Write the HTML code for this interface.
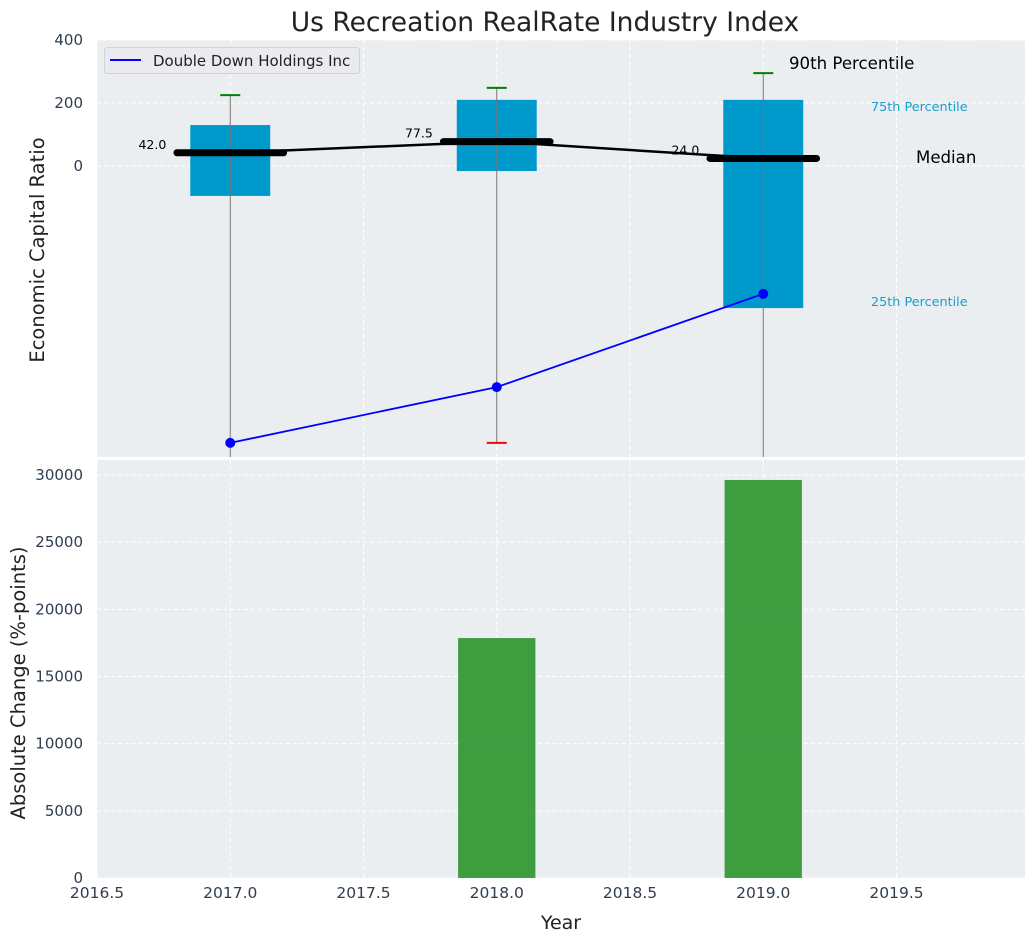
<!DOCTYPE html>
<html><head><meta charset="utf-8"><style>
body{margin:0;background:#fff;font-family:"Liberation Sans","DejaVu Sans",sans-serif}
svg text{font-family:"DejaVu Sans","Liberation Sans",sans-serif}
</style></head><body>
<svg id="c" width="1036" height="942" xmlns="http://www.w3.org/2000/svg"></svg>
<script>
const years=[2017,2018,2019];
const q25=[-95,-16,-451];
const q75=[130,210,210];
const p90=[225,248,295];
const p10=[-1000,-879,-1000];
const medians=[42,77.5,24];
const companyVals=[-879,-702,-406];
const changeYears=[2018,2019];
const changeVals=[17860,29630];
const topTicks=[0,200,400];
const botTicks=[0,5000,10000,15000,20000,25000,30000];
const xTicks=[2016.5,2017,2017.5,2018,2018.5,2019,2019.5];

const L=97,R=1025,T1=40,B1=457,T2=460,B2=878;
const xs=v=>L+(v-2016.5)*266.5;
const y1=v=>166-v*63/200;
const y2=v=>878-v*403/30000;
const svg=document.getElementById('c');
const NS='http://www.w3.org/2000/svg';
function mk(tag,attrs,parent){const e=document.createElementNS(NS,tag);for(const k in attrs)e.setAttribute(k,attrs[k]);(parent||svg).appendChild(e);return e;}
function txt(s,attrs,parent){const e=mk('text',attrs,parent);e.textContent=s;return e;}

let bg=mk('rect',{x:L,y:T1,width:R-L,height:B1-T1,fill:'#eaeef0'});


bg=mk('rect',{x:L,y:T2,width:R-L,height:B2-T2,fill:'#eaeef0'});



xTicks.forEach(t=>{
  mk('line',{x1:xs(t),x2:xs(t),y1:T1,y2:B1,stroke:'#fff','stroke-dasharray':'4,3','stroke-width':1});
  mk('line',{x1:xs(t),x2:xs(t),y1:T2,y2:B2,stroke:'#fff','stroke-dasharray':'4,3','stroke-width':1});
  const e=txt(String(t.toFixed(1)),{x:xs(t),y:B2+20,'font-size':15.5,fill:'#2e3e50','text-anchor':'middle'});
  
  
});
topTicks.forEach(t=>{
  mk('line',{x1:L,x2:R,y1:y1(t),y2:y1(t),stroke:'#fff','stroke-dasharray':'4,3'});
  const e=txt(String(t),{x:L-14,y:y1(t)+5,'font-size':15,fill:'#2e3e50','text-anchor':'end'});
  
  
});
botTicks.forEach(t=>{
  mk('line',{x1:L,x2:R,y1:y2(t),y2:y2(t),stroke:'#fff','stroke-dasharray':'4,3'});
  const e=txt(String(t),{x:L-14,y:y2(t)+5,'font-size':15,fill:'#2e3e50','text-anchor':'end'});
  
  
});
mk('line',{x1:L,x2:R,y1:458.5,y2:458.5,stroke:'#fff','stroke-width':3});

const cp=mk('clipPath',{id:'cl1'});mk('rect',{x:L,y:T1,width:R-L,height:B1-T1},cp);
const g1=mk('g',{'clip-path':'url(#cl1)'});

years.forEach((yr,i)=>{
  const b=mk('rect',{x:xs(yr-0.15),y:y1(q75[i]),width:xs(yr+0.15)-xs(yr-0.15),height:y1(q25[i])-y1(q75[i]),fill:'#0099cc'},g1);
  
  
  const w=mk('line',{x1:xs(yr),x2:xs(yr),y1:y1(p90[i]),y2:Math.min(y1(p10[i]),B1),stroke:'#777','stroke-width':1},g1);
  
  
  const c=mk('line',{x1:xs(yr)-10,x2:xs(yr)+10,y1:y1(p90[i]),y2:y1(p90[i]),stroke:'green','stroke-width':2},g1);
  
  
  if(y1(p10[i])<B1){
    const c2=mk('line',{x1:xs(yr)-10,x2:xs(yr)+10,y1:y1(p10[i]),y2:y1(p10[i]),stroke:'red','stroke-width':2},g1);
    
    
  }
});
const ml=mk('polyline',{points:years.map((y,i)=>xs(y)+','+y1(medians[i])).join(' '),fill:'none',stroke:'#000','stroke-width':2.5},g1);


years.forEach((yr,i)=>{
  const m=mk('line',{x1:xs(yr-0.2),x2:xs(yr+0.2),y1:y1(medians[i]),y2:y1(medians[i]),stroke:'#000','stroke-width':7,'stroke-linecap':'round'},g1);
  
  
  const t=txt(medians[i].toFixed(1),{x:xs(yr-0.24),y:y1(medians[i])-4,'font-size':12.5,fill:'#000','text-anchor':'end'},g1);
  
  
});
const cl=mk('polyline',{points:years.map((y,i)=>xs(y)+','+y1(companyVals[i])).join(' '),fill:'none',stroke:'#0000ff','stroke-width':1.8},g1);


years.forEach((yr,i)=>{
  const p=mk('circle',{cx:xs(yr),cy:y1(companyVals[i]),r:5,fill:'#0000ff'},g1);
  
  
});
let a=txt('90th Percentile',{x:789,y:69,'font-size':16.6,fill:'#000'});

a=txt('75th Percentile',{x:871,y:111,'font-size':12.8,fill:'#1a9fcc'});

a=txt('Median',{x:916,y:163,'font-size':16.6,fill:'#000'});

a=txt('25th Percentile',{x:871,y:306,'font-size':12.8,fill:'#1a9fcc'});


const lg=mk('g',{});


mk('rect',{x:104.5,y:47.5,width:255,height:26,rx:3,fill:'#eaeaf0',stroke:'#cfd3d8'},lg);
mk('line',{x1:110,x2:141,y1:60,y2:60,stroke:'#0000ff','stroke-width':2},lg);
txt('Double Down Holdings Inc',{x:153,y:66,'font-size':15,fill:'#222'},lg);

changeYears.forEach((yr,i)=>{
  const b=mk('rect',{x:xs(yr-0.145),y:y2(changeVals[i]),width:xs(yr+0.145)-xs(yr-0.145),height:y2(0)-y2(changeVals[i]),fill:'#2e9630','fill-opacity':0.92});
  
  
});

a=txt('Us Recreation RealRate Industry Index',{x:545,y:31,'font-size':26.5,fill:'#222','text-anchor':'middle'});

a=txt('Economic Capital Ratio',{x:0,y:0,'font-size':19.5,fill:'#222','text-anchor':'middle',transform:'translate(44,250) rotate(-90)'});

a=txt('Absolute Change (%-points)',{x:0,y:0,'font-size':19.5,fill:'#222','text-anchor':'middle',transform:'translate(25,683) rotate(-90)'});

a=txt('Year',{x:561,y:929,'font-size':19,fill:'#222','text-anchor':'middle'});

</script>
</body></html>
